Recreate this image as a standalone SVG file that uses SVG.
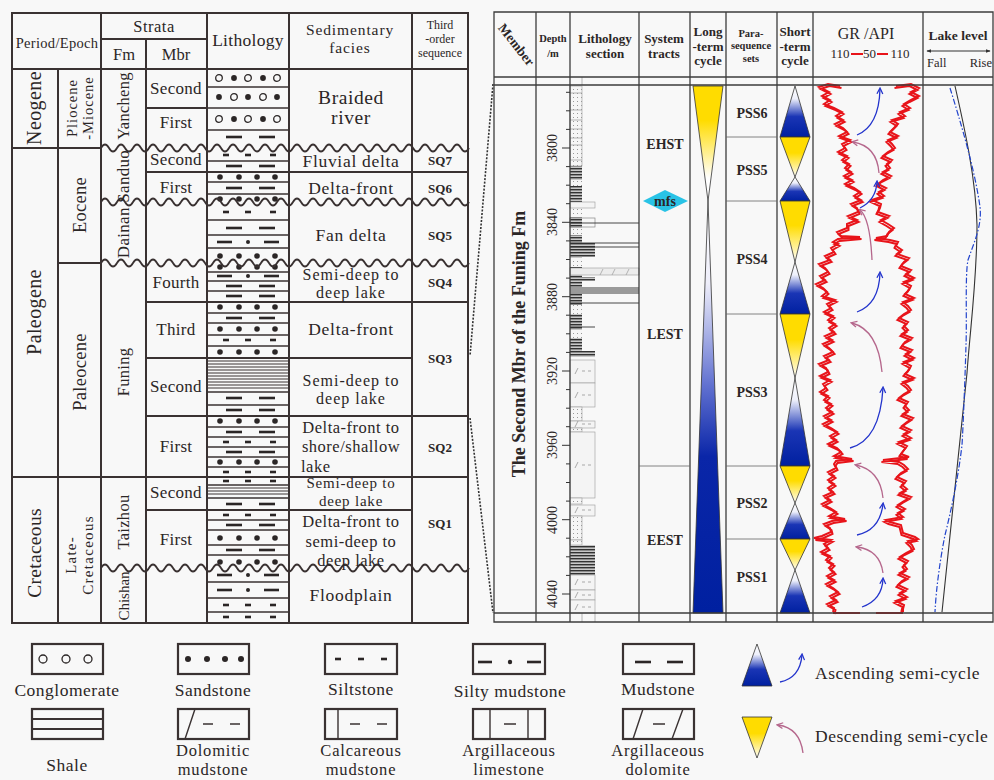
<svg xmlns="http://www.w3.org/2000/svg" xmlns:xlink="http://www.w3.org/1999/xlink" width="994" height="780" viewBox="0 0 994 780">
<style>
.t{font-family:"Liberation Serif","Times New Roman",serif;fill:#2b2626;text-anchor:middle}
.b{font-weight:bold}
.fc{font-size:16px;letter-spacing:1px}
.mb{font-size:17px;letter-spacing:0.3px}
.lgt{font-size:17.5px;letter-spacing:0.5px}
.lg2{font-size:16.5px;letter-spacing:0.8px}
.ln{stroke:#3a3232;stroke-width:2;fill:none}
.thin{stroke:#3a3232;stroke-width:1.3;fill:none}
.rl{stroke:#3c3c3c;stroke-width:1.3;fill:none}
.oc{fill:none;stroke:#2b2626;stroke-width:1.3}
.tri{stroke:#333;stroke-width:0.8}
.gr{fill:none;stroke:#e8141a;stroke-width:2;stroke-linejoin:miter}
.ab{fill:none;stroke:#2233cc;stroke-width:1.3}
.ap{fill:none;stroke:#b5678c;stroke-width:1.3}
.lg{fill:none;stroke:#3a3232;stroke-width:2.2}
.lb{fill:#f4f4f4;stroke:#999;stroke-width:0.6}
</style>
<defs>
<linearGradient id="gb" x1="0" y1="0" x2="0" y2="1"><stop offset="0" stop-color="#fff"/><stop offset="0.25" stop-color="#eef0fb"/><stop offset="0.6" stop-color="#1a35b5"/><stop offset="1" stop-color="#0020a0"/></linearGradient>
<linearGradient id="gy" x1="0" y1="0" x2="0" y2="1"><stop offset="0" stop-color="#ffdc00"/><stop offset="0.4" stop-color="#ffdc00"/><stop offset="1" stop-color="#fff"/></linearGradient>
<linearGradient id="gbl" x1="0" y1="0" x2="0" y2="1"><stop offset="0" stop-color="#fff"/><stop offset="0.2" stop-color="#eeeefa"/><stop offset="0.45" stop-color="#6070d0"/><stop offset="0.62" stop-color="#0a26a8"/><stop offset="1" stop-color="#0020a0"/></linearGradient>
<linearGradient id="gyl" x1="0" y1="0" x2="0" y2="1"><stop offset="0" stop-color="#ffdc00"/><stop offset="0.3" stop-color="#ffdc00"/><stop offset="0.8" stop-color="#fff"/></linearGradient>
<pattern id="pd" width="4" height="4" patternUnits="userSpaceOnUse"><rect width="4" height="4" fill="#f6f6f6"/><rect x="1" y="1" width="1" height="1" fill="#999"/></pattern>
<pattern id="pk" width="6" height="3" patternUnits="userSpaceOnUse"><rect width="6" height="3" fill="#c8c8c8"/><rect width="6" height="1.4" fill="#333"/></pattern>
<marker id="mb" viewBox="0 0 8 8" refX="6" refY="4" markerWidth="6" markerHeight="6" orient="auto"><path d="M1,1 L7,4 L1,7" fill="none" stroke="#2233cc" stroke-width="1.3"/></marker>
<marker id="mp" viewBox="0 0 8 8" refX="6" refY="4" markerWidth="6" markerHeight="6" orient="auto"><path d="M1,1 L7,4 L1,7" fill="none" stroke="#b5678c" stroke-width="1.3"/></marker>
<marker id="ma" viewBox="0 0 8 8" refX="7" refY="4" markerWidth="5" markerHeight="5" orient="auto-start-reverse"><path d="M0,1 L8,4 L0,7 Z" fill="#333"/></marker>
<path id="wv" d="M0,0 q4,-7 8,0 t8,0 t8,0 t8,0 t8,0 t8,0 t8,0 t8,0 t8,0 t8,0 t8,0 t8,0 t8,0 t8,0 t8,0 t8,0 t8,0 t8,0 t8,0 t8,0 t8,0 t8,0 t8,0 t8,0 t8,0 t8,0 t8,0 t8,0 t8,0 t8,0 t8,0 t8,0 t8,0 t8,0 t8,0 t8,0 t8,0 t8,0 t8,0 t8,0 t8,0 t8,0 t8,0 t8,0 t8,0 t8,0" fill="none" stroke="#3a3232" stroke-width="1.8"/>
<g id="cA"><circle cx="219" r="3.3" class="oc"/><circle cx="234" r="2.9"/><circle cx="248" r="3.3" class="oc"/><circle cx="263" r="2.9"/><circle cx="277" r="3.3" class="oc"/></g>
<g id="cB"><circle cx="219" r="2.9"/><circle cx="234" r="3.3" class="oc"/><circle cx="248" r="2.9"/><circle cx="263" r="3.3" class="oc"/><circle cx="277" r="2.9"/></g>
<g id="sd"><circle cx="220" r="2.8"/><circle cx="239" r="2.8"/><circle cx="257" r="2.8"/><circle cx="275" r="2.8"/></g>
<g id="st"><rect x="223" y="-1.3" width="6" height="2.6"/><rect x="245" y="-1.3" width="6" height="2.6"/><rect x="270" y="-1.3" width="6" height="2.6"/></g>
<g id="md"><rect x="226" y="-1.3" width="16" height="2.6"/><rect x="259" y="-1.3" width="16" height="2.6"/></g>
<g id="sm"><rect x="217" y="-1.3" width="15" height="2.6"/><circle cx="248" r="2"/><rect x="264" y="-1.3" width="15" height="2.6"/></g>
<g id="dm"><path d="M-7,3 L-4,-3 M0,0 h3 M6,0 h3" stroke="#888" stroke-width="0.7" fill="none"/></g>
<polyline id="grL" class="gr" points="840,86 828,84 819,87 829,92 822,96 830,100 824,104 834,108 842,112 836,116 843,120 835,124 843,128 847,132 839,136 850,140 842,144 845,148 838,152 847,156 842,160 849,164 845,168 851,172 844,176 852,180 845,184 854,188 860,192 854,196 861,200 851,204 857,208 858,212 848,216 857,220 847,224 847,228 837,232 841,236 860,237 838,239 833,242 838,244 831,248 834,252 825,256 830,260 819,264 825,268 828,272 820,276 825,280 816,284 823,288 827,292 822,296 835,300 827,304 831,308 824,312 833,316 828,320 835,324 829,328 834,332 825,336 832,340 823,344 829,348 833,352 824,356 829,360 819,364 826,368 828,372 820,376 830,380 823,384 826,388 820,392 828,396 824,400 831,404 826,408 832,412 824,416 831,420 823,424 831,428 837,432 830,436 836,440 828,444 837,448 841,452 834,456 852,459 836,461 834,464 836,468 828,472 834,476 828,480 834,484 828,488 833,492 824,496 830,500 822,504 830,508 836,512 829,516 845,519 832,521 824,524 830,528 831,532 822,536 814,538 831,540 824,544 828,548 821,552 830,556 826,560 833,564 829,568 834,572 827,576 834,580 826,584 833,588 838,592 830,596 836,600 827,604 834,608 833,612"/>
<polyline id="grR" class="gr" points="896,86 911,84 919,88 911,92 919,96 911,100 904,104 910,108 900,112 905,116 892,120 898,124 894,128 890,132 898,136 888,140 892,144 895,148 888,152 883,156 892,160 887,164 890,168 883,172 891,176 883,180 878,184 886,188 879,192 884,196 872,200 881,204 880,208 878,212 889,216 881,220 888,224 894,228 889,232 887,236 876,238 890,240 898,242 896,246 902,250 897,254 909,258 904,262 901,266 911,270 906,274 914,278 904,282 911,286 909,290 905,294 914,298 903,302 908,306 911,310 904,314 899,318 908,322 904,326 908,330 902,334 912,338 905,342 902,346 912,350 906,354 914,358 904,362 911,366 909,370 905,374 914,378 903,382 908,386 911,390 904,394 899,398 908,402 905,406 909,410 903,414 913,418 907,422 902,426 911,430 904,434 911,438 899,442 907,446 904,450 901,454 909,457 883,460 899,462 904,465 908,469 901,473 897,477 906,481 902,485 907,489 900,493 911,497 904,501 898,505 905,509 898,513 903,517 886,520 890,522 901,525 902,529 903,533 915,537 918,539 908,541 912,545 914,549 906,553 900,557 908,561 904,565 907,569 900,573 909,577 902,581 898,585 907,589 900,593 907,597 896,601 904,605 903,609 903,612"/>
</defs>
<rect width="994" height="780" fill="#f8f8f8"/>

<!-- LEFT TABLE -->
<g id="left-table">
<g id="lith-patterns" fill="#2b2626">
<use href="#cA" y="78"/><use href="#cB" y="97"/><use href="#cA" y="119"/><use href="#md" y="137"/>
<use href="#st" y="155"/><use href="#md" y="166"/><use href="#sd" y="177"/><use href="#md" y="188"/><use href="#sd" y="199"/>
<use href="#st" y="212"/><use href="#md" y="228"/><use href="#sm" y="242"/><use href="#sd" y="256"/>
<use href="#sd" y="267"/><use href="#sm" y="276"/><use href="#md" y="286"/><use href="#md" y="296"/>
<use href="#sd" y="307"/><use href="#md" y="318"/><use href="#sd" y="329"/><use href="#st" y="340"/><use href="#sd" y="352"/>
<use href="#md" y="398"/><use href="#md" y="410"/>
<use href="#sd" y="421"/><use href="#md" y="432"/><use href="#st" y="442"/><use href="#md" y="452"/><use href="#sd" y="462"/><use href="#st" y="472"/>
<use href="#st" y="481"/><use href="#md" y="504"/>
<use href="#st" y="515"/><use href="#md" y="525"/><use href="#sd" y="538"/><use href="#md" y="550"/><use href="#sd" y="562"/>
<use href="#sm" y="575"/><use href="#sm" y="590"/><use href="#st" y="605"/><use href="#st" y="617"/>
</g>
<path class="thin" d="M207,87H289M207,108H289M207,130H289M207,161H289M207,182H289M207,194H289M207,220H289M207,235H289M207,248H289M207,272H289M207,281H289M207,291H289M207,313H289M207,323H289M207,335H289M207,346H289M207,392H289M207,405H289M207,427H289M207,437H289M207,447H289M207,457H289M207,467H289M207,485H289M207,498H289M207,520H289M207,530H289M207,545H289M207,555H289M207,582H289M207,598H289M207,612H289"/>
<path stroke="#3a3232" stroke-width="1" fill="none" d="M207,361H289M207,364H289M207,367H289M207,370H289M207,373H289M207,376H289M207,379H289M207,382H289M207,385H289M207,388H289M207,488H289M207,491H289M207,494H289"/>
<path class="ln" d="M12,13H468V623H12Z M101,39H207 M12,69H468 M58,69V623 M101,13V623 M146,39V623 M207,13V623 M289,13V623 M412,13V623 M146,108H207 M12,148H101 M146,172H468 M58,263H101 M146,302H468 M146,358H412 M146,416H468 M12,477H468 M146,510H412"/>
<use href="#wv" x="101" y="148"/><use href="#wv" x="101" y="202"/><use href="#wv" x="101" y="263"/><use href="#wv" x="101" y="568"/>
<g class="t">
<text x="57" y="48" font-size="14.5" letter-spacing="0.3">Period/Epoch</text>
<text x="154" y="32" font-size="16.5" letter-spacing="0.5">Strata</text>
<text x="124" y="60" font-size="16.5">Fm</text>
<text x="176" y="60" font-size="16.5">Mbr</text>
<text x="248" y="46" font-size="17.5" letter-spacing="0.3">Lithology</text>
<text x="350" y="35" font-size="15.5" letter-spacing="0.9">Sedimentary</text>
<text x="350" y="53" font-size="15.5" letter-spacing="0.9">facies</text>
<text x="440" y="29" font-size="12">Third</text>
<text x="440" y="43" font-size="12">-order</text>
<text x="440" y="57" font-size="12">sequence</text>

<text transform="translate(35,108) rotate(-90)" y="6" font-size="20" letter-spacing="0.4">Neogene</text>
<text transform="translate(72,108) rotate(-90)" y="5" font-size="14.5" letter-spacing="1">Pliocene</text>
<text transform="translate(88,108) rotate(-90)" y="5" font-size="14.5" letter-spacing="1">-Miocene</text>
<text transform="translate(124,106) rotate(-90)" y="5" font-size="16.5" letter-spacing="0.3">Yancheng</text>
<text transform="translate(80,205) rotate(-90)" y="6" font-size="18.5" letter-spacing="0.3">Eocene</text>
<text transform="translate(124,204) rotate(-90)" y="5" font-size="17" letter-spacing="0.3">Dainan Sanduo</text>
<text transform="translate(35,312) rotate(-90)" y="6" font-size="20" letter-spacing="0.4">Paleogene</text>
<text transform="translate(80,372) rotate(-90)" y="6" font-size="18.5" letter-spacing="0.3">Paleocene</text>
<text transform="translate(124,372) rotate(-90)" y="5" font-size="16.5" letter-spacing="0.3">Funing</text>
<text transform="translate(35,553) rotate(-90)" y="6" font-size="19.5" letter-spacing="0.3">Cretaceous</text>
<text transform="translate(71,555) rotate(-90)" y="5" font-size="15" letter-spacing="1.2">Late-</text>
<text transform="translate(88,555) rotate(-90)" y="5" font-size="15" letter-spacing="1.3">Cretaceous</text>
<text transform="translate(124,522) rotate(-90)" y="5" font-size="16.5" letter-spacing="0.3">Taizhou</text>
<text transform="translate(124,596) rotate(-90)" y="5" font-size="15">Chishan</text>

<g class="mb">
<text x="176" y="94">Second</text>
<text x="176" y="128">First</text>
<text x="176" y="165">Second</text>
<text x="176" y="193">First</text>
<text x="176" y="288">Fourth</text>
<text x="176" y="335">Third</text>
<text x="176" y="392">Second</text>
<text x="176" y="452">First</text>
<text x="176" y="498">Second</text>
<text x="176" y="545">First</text>
</g>

<text x="351" y="104" font-size="19.5" letter-spacing="0.6">Braided</text>
<text x="351" y="124" font-size="19.5" letter-spacing="0.6">river</text>
<g font-size="17.5" letter-spacing="0.7">
<text x="351" y="167">Fluvial delta</text>
<text x="351" y="194">Delta-front</text>
<text x="351" y="241">Fan delta</text>
<text x="351" y="335">Delta-front</text>
<text x="351" y="601">Floodplain</text>
</g>
<g class="fc">
<text x="351" y="280">Semi-deep to</text>
<text x="351" y="298">deep lake</text>
<text x="351" y="386">Semi-deep to</text>
<text x="351" y="404">deep lake</text>
</g>
<g font-size="16.5" letter-spacing="0.5">
<text x="351" y="433">Delta-front to</text>
<text x="351" y="452">shore/shallow</text>
<text x="301" y="472" style="text-anchor:start">lake</text>
<text x="351" y="527">Delta-front to</text>
<text x="351" y="547">semi-deep to</text>
<text x="351" y="566">deep lake</text>
</g>
<g font-size="15" letter-spacing="0.8">
<text x="351" y="488">Semi-deep to</text>
<text x="351" y="506">deep lake</text>
</g>

<g class="b" font-size="13">
<text x="440" y="165">SQ7</text>
<text x="440" y="193">SQ6</text>
<text x="440" y="240">SQ5</text>
<text x="440" y="287">SQ4</text>
<text x="440" y="363">SQ3</text>
<text x="440" y="452">SQ2</text>
<text x="440" y="528">SQ1</text>
</g>
</g>
</g>

<!-- CONNECTORS -->
<g id="connectors" stroke="#333" stroke-width="1.6" stroke-dasharray="2,1.5" fill="none">
<path d="M493,84 L470,356"/>
<path d="M470,418 L493,613"/>
</g>

<!-- RIGHT PANEL -->
<g id="right-panel">
<g id="lith-section">
<rect x="570" y="86" width="12" height="80" fill="url(#pd)" stroke="#999" stroke-width="0.6"/>
<path stroke="#999" stroke-width="0.7" d="M570,93H582M570,110H582M570,120H582M570,129H582M570,138H582M570,145H582M570,160H582"/>
<rect x="570" y="166" width="12" height="185" fill="url(#pk)"/>
<rect x="570" y="180" width="12" height="6" fill="url(#pd)"/>
<rect x="570" y="207" width="12" height="10" fill="url(#pd)"/>
<rect x="570" y="228" width="12" height="7" fill="url(#pd)"/>
<rect x="570" y="258" width="12" height="9" fill="url(#pd)"/>
<rect x="570" y="305" width="12" height="9" fill="url(#pd)"/>
<rect x="570" y="330" width="12" height="8" fill="url(#pd)"/>
<rect x="570" y="202" width="25" height="6" class="lb"/>
<rect x="570" y="218" width="25" height="9" fill="none" stroke="#888" stroke-width="0.7"/>
<rect x="570" y="243" width="25" height="14" fill="url(#pk)"/>
<rect x="570" y="268" width="69" height="7" fill="#ececec" stroke="#999" stroke-width="0.6"/>
<path d="M600,275l3,-6M612,275l3,-6M626,275l3,-6" stroke="#999" stroke-width="0.7"/>
<rect x="570" y="277" width="25" height="4" fill="url(#pk)"/>
<rect x="570" y="287" width="69" height="7" fill="#9a9a9a"/>
<path stroke="#333" stroke-width="0.9" d="M570,223H639M570,243H639M570,247H639M570,303H639M570,327H595"/>
<rect x="570" y="351" width="25" height="6" fill="url(#pk)"/>
<rect x="570" y="360" width="25" height="23" class="lb"/><use href="#dm" x="582" y="371"/>
<rect x="570" y="383" width="25" height="24" class="lb"/><use href="#dm" x="582" y="395"/>
<rect x="570" y="407" width="12" height="14" fill="url(#pd)" stroke="#999" stroke-width="0.6"/>
<rect x="570" y="421" width="25" height="7" class="lb"/><use href="#dm" x="582" y="424"/>
<rect x="570" y="428" width="12" height="4" fill="url(#pd)" stroke="#999" stroke-width="0.6"/>
<rect x="570" y="432" width="25" height="66" class="lb"/><use href="#dm" x="582" y="465"/>
<rect x="570" y="498" width="12" height="6" fill="url(#pd)" stroke="#999" stroke-width="0.6"/>
<rect x="570" y="505" width="25" height="11" class="lb"/><use href="#dm" x="582" y="510"/>
<rect x="570" y="516" width="12" height="24" fill="url(#pd)" stroke="#999" stroke-width="0.6"/>
<rect x="570" y="540" width="12" height="5" fill="url(#pd)" stroke="#999" stroke-width="0.6"/>
<rect x="570" y="545" width="25" height="30" fill="url(#pk)"/>
<rect x="570" y="575" width="25" height="15" class="lb"/><use href="#dm" x="582" y="582"/>
<rect x="570" y="590" width="25" height="10" class="lb"/><use href="#dm" x="582" y="595"/>
<rect x="570" y="600" width="25" height="13" class="lb"/><use href="#dm" x="582" y="607"/>
<path stroke="#999" stroke-width="0.7" d="M582,77V85M582,613V622M595,613V622"/>
</g>

<g id="long-term">
<polygon points="693,86 723,86 708,201" fill="url(#gyl)" class="tri"/>
<polygon points="708,201 693,613 723,613" fill="url(#gbl)" class="tri"/>
</g>

<g id="short-term">
<polygon points="795,86 780,137 810,137" fill="url(#gb)" class="tri"/>
<polygon points="780,137 810,137 795,177" fill="url(#gy)" class="tri"/>
<polygon points="795,177 780,201 810,201" fill="url(#gb)" class="tri"/>
<polygon points="780,201 810,201 795,262" fill="url(#gy)" class="tri"/>
<polygon points="795,262 780,314 810,314" fill="url(#gb)" class="tri"/>
<polygon points="780,314 810,314 795,378" fill="url(#gy)" class="tri"/>
<polygon points="795,378 780,466 810,466" fill="url(#gb)" class="tri"/>
<polygon points="780,466 810,466 795,503" fill="url(#gy)" class="tri"/>
<polygon points="795,503 780,539 810,539" fill="url(#gb)" class="tri"/>
<polygon points="780,539 810,539 795,570" fill="url(#gy)" class="tri"/>
<polygon points="795,570 780,613 810,613" fill="url(#gb)" class="tri"/>
</g>

<g id="gr-log">
<use href="#grL"/>
<use href="#grL" transform="translate(1.5,2)" style="stroke-width:1.4"/>
<use href="#grR"/>
<use href="#grR" transform="translate(-1.5,2)" style="stroke-width:1.4"/>
<path class="gr" d="M833,613H860M876,613H903"/>
</g>

<g id="gr-arrows">
<path class="ab" marker-end="url(#mb)" d="M857,135 Q879,126 880,89"/>
<path class="ap" marker-end="url(#mp)" d="M879,173 Q877,146 853,142"/>
<path class="ab" marker-end="url(#mb)" d="M860,208 Q876,200 877,182"/>
<path class="ap" marker-end="url(#mp)" d="M872,260 Q870,218 860,210"/>
<path class="ab" marker-end="url(#mb)" d="M857,312 Q879,304 880,273"/>
<path class="ap" marker-end="url(#mp)" d="M882,372 Q878,330 852,323"/>
<path class="ab" marker-end="url(#mb)" d="M850,448 Q880,440 883,388"/>
<path class="ap" marker-end="url(#mp)" d="M883,498 Q880,470 856,465"/>
<path class="ab" marker-end="url(#mb)" d="M857,535 Q880,530 883,504"/>
<path class="ap" marker-end="url(#mp)" d="M883,573 Q880,550 857,547"/>
<path class="ab" marker-end="url(#mb)" d="M862,607 Q882,600 883,579"/>
</g>

<g id="lake-level">
<path d="M955,86 C965,130 976,180 977,225 C977,280 970,330 967,373 L942,612" fill="none" stroke="#333" stroke-width="1.1"/>
<path d="M950,88 C960,120 975,170 980,207 C982,225 975,240 968,260 C965,275 967,320 966,345 C965,380 963,430 962,445 C958,480 950,515 945,535 C940,560 936,590 935,612" fill="none" stroke="#2244cc" stroke-width="1.2" stroke-dasharray="6,2,1.5,2"/>
</g>

<g id="grid">
<path class="rl" d="M494,12H993V622H494Z M494,77H993 M494,85H993 M494,613H993 M536,12V622 M570,12V622 M639,12V622 M690,12V622 M726,12V622 M777,12V622 M813,12V622 M923,12V622"/>
<path stroke="#666" stroke-width="0.8" d="M726,137H777M726,201H777M726,314H777M726,466H777M726,539H777M639,466H690"/>
<path stroke="#333" stroke-width="1" d="M562,148h8M562,222.3h8M562,296.7h8M562,371h8M562,445.3h8M562,519.7h8M562,594h8M566,92.3h4M566,110.8h4M566,129.4h4M566,166.6h4M566,185.2h4M566,203.7h4M566,240.9h4M566,259.5h4M566,278.1h4M566,315.2h4M566,333.8h4M566,352.4h4M566,389.6h4M566,408.2h4M566,426.7h4M566,463.9h4M566,482.5h4M566,501.1h4M566,538.2h4M566,556.8h4M566,575.4h4"/>
</g>

<g id="mfs">
<polygon points="643,201 665,190 688,201 665,212" fill="#29c3e6"/>
<text class="t b" x="665" y="206" font-size="14" fill="#1a2540">mfs</text>
</g>

<g class="t b">
<text transform="translate(516,45) rotate(52)" y="4" font-size="13.5">Member</text>
<text x="553" y="42" font-size="10.5">Depth</text>
<text x="553" y="57" font-size="10.5">/m</text>
<text x="605" y="43" font-size="13">Lithology</text>
<text x="605" y="58" font-size="13">section</text>
<text x="664" y="43" font-size="13">System</text>
<text x="664" y="58" font-size="13">tracts</text>
<text x="708" y="36" font-size="13">Long</text>
<text x="708" y="50.5" font-size="13">-term</text>
<text x="708" y="65" font-size="13">cycle</text>
<text x="751" y="37" font-size="10.5">Para-</text>
<text x="751" y="49" font-size="10.5">sequence</text>
<text x="751" y="62" font-size="10.5">sets</text>
<text x="795" y="36" font-size="13">Short</text>
<text x="795" y="50.5" font-size="13">-term</text>
<text x="795" y="65" font-size="13">cycle</text>
<text x="958" y="40" font-size="13.5">Lake level</text>
<text transform="translate(519,344) rotate(-90)" y="6" font-size="18">The Second Mbr of the Funing Fm</text>
<text x="665" y="149" font-size="14">EHST</text>
<text x="665" y="339" font-size="14">LEST</text>
<text x="665" y="545" font-size="14">EEST</text>
<text x="752" y="118" font-size="14">PSS6</text>
<text x="752" y="175" font-size="14">PSS5</text>
<text x="752" y="264" font-size="14">PSS4</text>
<text x="752" y="397" font-size="14">PSS3</text>
<text x="752" y="508" font-size="14">PSS2</text>
<text x="752" y="582" font-size="14">PSS1</text>
</g>
<g class="t">
<text x="866" y="39" font-size="16">GR /API</text>
<text x="840" y="58" font-size="13">110</text>
<text x="869.5" y="58" font-size="13">50</text>
<text x="900" y="58" font-size="13">110</text>
<text x="927" y="67" font-size="12.5" style="text-anchor:start">Fall</text>
<text x="992" y="67" font-size="12.5" style="text-anchor:end">Rise</text>
<text transform="translate(552,148) rotate(-90)" y="5" font-size="14">3800</text>
<text transform="translate(552,222) rotate(-90)" y="5" font-size="14">3840</text>
<text transform="translate(552,297) rotate(-90)" y="5" font-size="14">3880</text>
<text transform="translate(552,371) rotate(-90)" y="5" font-size="14">3920</text>
<text transform="translate(552,445) rotate(-90)" y="5" font-size="14">3960</text>
<text transform="translate(552,520) rotate(-90)" y="5" font-size="14">4000</text>
<text transform="translate(552,594) rotate(-90)" y="5" font-size="14">4040</text>
</g>
<path d="M851,54H863M877,54H888" stroke="#e8141a" stroke-width="2.2"/>
<path d="M927,51H990" stroke="#333" stroke-width="1" marker-start="url(#ma)" marker-end="url(#ma)"/>
</g>

<!-- LEGEND -->
<g id="legend">
<g id="lg-conglomerate"><rect x="32" y="644" width="71" height="30" class="lg"/><circle cx="43" cy="659" r="4" class="oc"/><circle cx="66" cy="659" r="4" class="oc"/><circle cx="88" cy="659" r="4" class="oc"/><text class="t lgt" x="67" y="696">Conglomerate</text></g>
<g id="lg-sandstone"><rect x="178" y="644" width="71" height="30" class="lg"/><g fill="#2b2626"><circle cx="188" cy="659" r="3"/><circle cx="207" cy="659" r="3"/><circle cx="225" cy="659" r="3"/><circle cx="241" cy="659" r="3"/></g><text class="t lgt" x="213" y="696">Sandstone</text></g>
<g id="lg-siltstone"><rect x="325" y="644" width="72" height="30" class="lg"/><g fill="#2b2626"><rect x="335" y="657.7" width="6" height="2.6"/><rect x="358" y="657.7" width="6" height="2.6"/><rect x="381" y="657.7" width="6" height="2.6"/></g><text class="t lgt" x="361" y="695">Siltstone</text></g>
<g id="lg-siltymud"><rect x="473" y="644" width="72" height="30" class="lg"/><g fill="#2b2626"><rect x="478" y="660.7" width="14" height="2.6"/><circle cx="510" cy="662" r="2.2"/><rect x="527" y="660.7" width="14" height="2.6"/></g><text class="t lgt" x="510" y="697">Silty mudstone</text></g>
<g id="lg-mudstone"><rect x="623" y="644" width="71" height="30" class="lg"/><g fill="#2b2626"><rect x="635" y="660.7" width="16" height="2.6"/><rect x="667" y="660.7" width="16" height="2.6"/></g><text class="t lgt" x="658" y="695">Mudstone</text></g>
<g id="lg-shale"><rect x="32" y="709" width="71" height="30" class="lg"/><path d="M32,719H103M32,729H103" class="lg"/><text class="t lgt" x="67" y="771">Shale</text></g>
<g id="lg-dolomud"><rect x="178" y="709" width="71" height="30" class="lg"/><path d="M185,739L195,709M203,724h10M230,724h10" stroke="#3a3232" stroke-width="1.4"/><text class="t lg2" x="213" y="756">Dolomitic</text><text class="t lg2" x="213" y="775">mudstone</text></g>
<g id="lg-calcmud"><rect x="325" y="709" width="72" height="30" class="lg"/><path d="M338,709V739M350,724h10M377,724h10" stroke="#3a3232" stroke-width="1.4"/><text class="t lg2" x="361" y="756">Calcareous</text><text class="t lg2" x="361" y="775">mudstone</text></g>
<g id="lg-arglime"><rect x="473" y="709" width="72" height="30" class="lg"/><path d="M490,709V739M528,709V739M504,724h12" stroke="#3a3232" stroke-width="1.4"/><text class="t lg2" x="509" y="756">Argillaceous</text><text class="t lg2" x="509" y="775">limestone</text></g>
<g id="lg-argdolo"><rect x="623" y="709" width="71" height="30" class="lg"/><path d="M633,739L643,709M653,724h12M672,739L683,709" stroke="#3a3232" stroke-width="1.4"/><text class="t lg2" x="658" y="756">Argillaceous</text><text class="t lg2" x="658" y="775">dolomite</text></g>
<g id="lg-ascending"><polygon points="757,644 742,686 772,686" fill="url(#gb)" class="tri"/><path class="ab" marker-end="url(#mb)" d="M780,682 Q800,678 802,655"/><text class="t lgt" x="815" y="679" style="text-anchor:start">Ascending semi-cycle</text></g>
<g id="lg-descending"><polygon points="742,717 772,717 757,758" fill="url(#gy)" class="tri"/><path class="ap" marker-end="url(#mp)" d="M803,753 Q800,728 778,725"/><text class="t lgt" x="815" y="742" style="text-anchor:start">Descending semi-cycle</text></g>
</g>
</svg>
